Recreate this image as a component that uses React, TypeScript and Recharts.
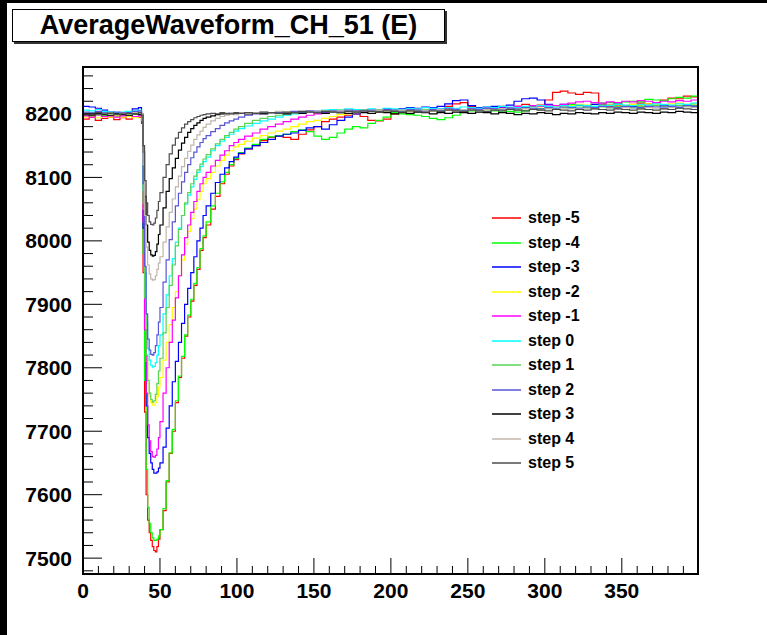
import React from 'react';
import { LineChart, Line, XAxis, YAxis, Legend } from 'recharts';

// bin positions (x axis), denser where the pulse is
const bins = [
  0, 4, 8, 12, 16, 20, 24, 28, 32, 36,
  38, 39, 40, 41, 42, 43, 44, 45, 46, 47, 48, 49, 50,
  52, 54, 56, 58, 60, 62, 64, 66, 68, 70, 72, 74, 76, 78, 80,
  83, 86, 89, 92, 95, 98, 101,
  105, 110, 115, 120, 125, 130, 135, 140, 145, 150,
  155, 160, 165, 170, 175, 180, 185, 190, 195, 200,
  205, 210, 215, 220, 225, 230, 235, 240, 245, 250,
  255, 260, 265, 270, 275, 280, 285, 290, 295, 300,
  305, 310, 315, 320, 325, 330, 335, 340, 345, 350,
  355, 360, 365, 370, 375, 380, 385, 390, 395, 400,
];

const stepM5 = [
  8192, 8195, 8190, 8193, 8195, 8191, 8194, 8192, 8196, 8195,
  8185, 7950, 7730, 7600, 7560, 7540, 7528, 7518, 7512, 7510, 7518, 7530, 7545,
  7575, 7620, 7665, 7700, 7745, 7785, 7815, 7850, 7880, 7905, 7930, 7955, 7985, 8005, 8025,
  8050, 8070, 8090, 8105, 8118, 8128, 8137,
  8145, 8150, 8158, 8163, 8165, 8163, 8160, 8168, 8175, 8180,
  8188, 8192, 8195, 8198, 8200, 8196, 8190, 8189, 8192, 8200,
  8203, 8205, 8204, 8207, 8206, 8208, 8212, 8216, 8218, 8212,
  8210, 8208, 8210, 8212, 8210, 8212, 8215, 8212, 8214, 8222,
  8234, 8236, 8233, 8231, 8234, 8233, 8215, 8212, 8214, 8213,
  8215, 8217, 8216, 8218, 8222, 8225, 8224, 8228, 8227, 8229,
];

const stepM4 = [
  8198, 8196, 8199, 8197, 8198, 8196, 8199, 8198, 8200, 8199,
  8190, 7980, 7780, 7640, 7580, 7555, 7540, 7532, 7528, 7528, 7530, 7535, 7545,
  7578, 7622, 7666, 7703, 7748, 7787, 7818, 7852, 7883, 7908, 7933, 7958, 7988, 8008, 8030,
  8055, 8075, 8093, 8108, 8120, 8130, 8139,
  8146, 8152, 8160, 8164, 8166, 8168, 8172, 8175, 8172, 8165,
  8160, 8163, 8170, 8176, 8180, 8178, 8185, 8190, 8195, 8202,
  8200, 8199, 8198, 8196, 8193, 8191, 8194, 8198, 8203, 8205,
  8206, 8204, 8205, 8203, 8204, 8203, 8205, 8207, 8208, 8210,
  8212, 8213, 8215, 8214, 8213, 8215, 8217, 8218, 8216, 8219,
  8220, 8219, 8223, 8222, 8221, 8224, 8226, 8225, 8228, 8229,
];

const stepM3 = [
  8212, 8211, 8209, 8206, 8203, 8202, 8201, 8203, 8208, 8210,
  8200, 8020, 7860, 7740, 7690, 7665, 7650, 7640, 7634, 7634, 7636, 7642, 7650,
  7675, 7705, 7740, 7778, 7810, 7840, 7870, 7900, 7925, 7950, 7975, 8000, 8020, 8040, 8055,
  8075, 8092, 8105, 8115, 8125, 8132, 8138,
  8145, 8150, 8155, 8160, 8165, 8168, 8170, 8174, 8178, 8180,
  8176, 8183, 8190, 8195, 8200, 8204, 8205, 8207, 8208, 8206,
  8208, 8210, 8209, 8211, 8210, 8212, 8216, 8221, 8222, 8213,
  8210, 8211, 8212, 8210, 8214, 8220, 8224, 8225, 8222, 8215,
  8213, 8215, 8212, 8214, 8213, 8215, 8212, 8214, 8215, 8213,
  8212, 8214, 8212, 8213, 8211, 8212, 8210, 8214, 8213, 8215,
];

const stepM2 = [
  8195, 8197, 8194, 8196, 8195, 8197, 8195, 8196, 8194, 8196,
  8195, 8050, 7900, 7810, 7775, 7755, 7745, 7741, 7741, 7745, 7755, 7770, 7785,
  7812, 7840, 7868, 7895, 7920, 7945, 7970, 7995, 8015, 8035, 8050, 8065, 8078, 8090, 8098,
  8108, 8118, 8127, 8135, 8142, 8148, 8152,
  8157, 8162, 8166, 8170, 8173, 8176, 8180, 8184, 8188, 8190,
  8193, 8196, 8199, 8200, 8202, 8203, 8204, 8203, 8205, 8206,
  8204, 8205, 8207, 8206, 8205, 8207, 8206, 8208, 8207, 8206,
  8208, 8207, 8209, 8208, 8207, 8209, 8210, 8209, 8211, 8210,
  8212, 8211, 8213, 8215, 8214, 8212, 8213, 8214, 8212, 8213,
  8215, 8214, 8216, 8215, 8214, 8216, 8217, 8215, 8216, 8218,
];

const stepM1 = [
  8197, 8195, 8198, 8196, 8197, 8195, 8197, 8198, 8196, 8197,
  8195, 8030, 7860, 7760, 7710, 7685, 7668, 7660, 7659, 7662, 7672, 7690, 7715,
  7760, 7800, 7840, 7875, 7910, 7945, 7978, 8005, 8025, 8045, 8062, 8078, 8090, 8100, 8108,
  8118, 8127, 8135, 8142, 8150, 8155, 8160,
  8165, 8170, 8176, 8180, 8184, 8188, 8192, 8195, 8198, 8200,
  8202, 8203, 8204, 8205, 8204, 8206, 8205, 8207, 8206, 8205,
  8207, 8206, 8208, 8207, 8206, 8208, 8209, 8208, 8207, 8209,
  8208, 8210, 8209, 8211, 8210, 8212, 8211, 8213, 8212, 8214,
  8213, 8215, 8217, 8219, 8220, 8218, 8217, 8219, 8218, 8220,
  8219, 8221, 8220, 8218, 8220, 8219, 8221, 8220, 8222, 8221,
];

const step0 = [
  8206, 8205, 8207, 8204, 8203, 8202, 8203, 8204, 8205, 8206,
  8200, 8080, 7950, 7870, 7830, 7812, 7804, 7801, 7802, 7808, 7820, 7835, 7852,
  7885, 7915, 7945, 7972, 7998, 8020, 8040, 8058, 8072, 8085, 8097, 8108, 8117, 8125, 8132,
  8142, 8150, 8157, 8163, 8168, 8173, 8177,
  8181, 8185, 8189, 8192, 8195, 8198, 8200, 8202, 8203, 8205,
  8206, 8207, 8206, 8208, 8207, 8206, 8208, 8207, 8209, 8208,
  8207, 8209, 8208, 8210, 8209, 8208, 8210, 8209, 8211, 8210,
  8209, 8211, 8210, 8212, 8211, 8210, 8212, 8211, 8213, 8212,
  8211, 8213, 8212, 8214, 8213, 8212, 8214, 8213, 8215, 8214,
  8213, 8215, 8214, 8216, 8215, 8214, 8216, 8215, 8217, 8216,
];

const step1 = [
  8200, 8201, 8199, 8200, 8202, 8200, 8201, 8199, 8202, 8203,
  8198, 8060, 7910, 7820, 7780, 7760, 7750, 7746, 7748, 7758, 7775, 7795, 7815,
  7855, 7895, 7930, 7962, 7992, 8018, 8040, 8060, 8076, 8090, 8102, 8112, 8121, 8129, 8136,
  8145, 8153, 8160, 8166, 8171, 8176, 8180,
  8185, 8190, 8193, 8196, 8198, 8200, 8202, 8203, 8204, 8203,
  8205, 8204, 8206, 8205, 8204, 8206, 8205, 8207, 8206, 8205,
  8204, 8206, 8205, 8207, 8206, 8205, 8207, 8206, 8205, 8207,
  8206, 8208, 8207, 8206, 8208, 8207, 8209, 8208, 8207, 8209,
  8208, 8210, 8209, 8211, 8210, 8209, 8211, 8210, 8212, 8211,
  8210, 8212, 8211, 8213, 8212, 8211, 8213, 8212, 8214, 8213,
];

const step2 = [
  8203, 8202, 8204, 8202, 8201, 8203, 8202, 8201, 8204, 8205,
  8200, 8090, 7960, 7885, 7845, 7828, 7821, 7820, 7824, 7835, 7852, 7872, 7895,
  7935, 7970, 8002, 8030, 8055, 8075, 8093, 8108, 8120, 8131, 8140, 8148, 8155, 8161, 8166,
  8172, 8177, 8182, 8186, 8189, 8192, 8195,
  8198, 8200, 8201, 8202, 8203, 8202, 8204, 8203, 8205, 8204,
  8203, 8205, 8204, 8206, 8205, 8204, 8206, 8205, 8207, 8206,
  8205, 8207, 8206, 8205, 8207, 8206, 8208, 8207, 8206, 8208,
  8207, 8209, 8208, 8207, 8209, 8208, 8210, 8209, 8208, 8210,
  8209, 8211, 8210, 8209, 8211, 8210, 8212, 8211, 8210, 8212,
  8211, 8210, 8212, 8211, 8213, 8212, 8211, 8213, 8212, 8214,
];

const step3 = [
  8199, 8198, 8200, 8199, 8198, 8200, 8199, 8198, 8200, 8199,
  8198, 8140, 8070, 8025, 7998, 7985, 7978, 7976, 7977, 7983, 7995, 8010, 8025,
  8052, 8078, 8098, 8115, 8130, 8143, 8154, 8163, 8171, 8177, 8182, 8186, 8190, 8193, 8195,
  8197, 8199, 8200, 8200, 8201, 8200, 8201,
  8200, 8201, 8200, 8202, 8201, 8200, 8202, 8201, 8203, 8202,
  8201, 8203, 8202, 8201, 8203, 8202, 8201, 8203, 8202, 8200,
  8202, 8201, 8203, 8202, 8200, 8202, 8201, 8203, 8202, 8201,
  8203, 8202, 8200, 8202, 8201, 8199, 8201, 8200, 8202, 8201,
  8199, 8201, 8200, 8202, 8201, 8200, 8202, 8201, 8203, 8202,
  8201, 8203, 8202, 8201, 8203, 8202, 8204, 8203, 8202, 8204,
];

const step4 = [
  8200, 8201, 8199, 8201, 8200, 8199, 8201, 8200, 8202, 8201,
  8200, 8120, 8040, 7990, 7962, 7948, 7940, 7938, 7939, 7945, 7955, 7965, 7975,
  7998, 8022, 8045, 8066, 8085, 8102, 8117, 8130, 8141, 8151, 8160, 8167, 8173, 8179, 8184,
  8189, 8193, 8196, 8198, 8200, 8199, 8201,
  8201, 8202, 8203, 8202, 8204, 8203, 8202, 8204, 8203, 8205,
  8204, 8203, 8205, 8204, 8203, 8205, 8204, 8206, 8205, 8204,
  8206, 8205, 8204, 8206, 8205, 8207, 8206, 8205, 8207, 8206,
  8205, 8207, 8206, 8208, 8207, 8206, 8208, 8207, 8206, 8208,
  8207, 8209, 8208, 8207, 8209, 8208, 8207, 8209, 8208, 8210,
  8209, 8208, 8210, 8209, 8208, 8210, 8209, 8211, 8210, 8209,
];

const step5 = [
  8201, 8200, 8202, 8200, 8201, 8199, 8200, 8201, 8200, 8202,
  8198, 8150, 8095, 8060, 8040, 8030, 8026, 8025, 8028, 8036, 8048, 8062, 8076,
  8100, 8120, 8137, 8151, 8162, 8171, 8178, 8184, 8188, 8191, 8194, 8196, 8198, 8199, 8200,
  8201, 8200, 8202, 8201, 8200, 8202, 8201,
  8202, 8201, 8203, 8202, 8201, 8203, 8202, 8204, 8203, 8202,
  8204, 8203, 8202, 8204, 8203, 8205, 8204, 8203, 8205, 8204,
  8203, 8205, 8204, 8203, 8205, 8204, 8206, 8205, 8204, 8206,
  8205, 8204, 8206, 8205, 8207, 8206, 8205, 8207, 8206, 8205,
  8207, 8206, 8205, 8207, 8206, 8208, 8207, 8206, 8208, 8207,
  8206, 8208, 8207, 8206, 8208, 8207, 8209, 8208, 8207, 8209,
];

const seriesNames = ['step -5', 'step -4', 'step -3', 'step -2', 'step -1', 'step 0', 'step 1', 'step 2', 'step 3', 'step 4', 'step 5'];
const seriesValues = [stepM5, stepM4, stepM3, stepM2, stepM1, step0, step1, step2, step3, step4, step5];
const seriesColors = ['#ff0000', '#00ff00', '#0000ff', '#ffff00', '#ff00ff', '#00ffff', '#59d454', '#5954d8', '#000000', '#c0b6ac', '#4c4c4c'];

const xLabels = [0, 50, 100, 150, 200, 250, 300, 350];
const yLabels = [7500, 7600, 7700, 7800, 7900, 8000, 8100, 8200];
const xTicks = Array.from({ length: 40 }, (_, i) => i * 10);
const yTicks = Array.from({ length: 40 }, (_, i) => 7480 + i * 20);

const data = bins.map((b, i) => {
  const row: Record<string, number> = { bin: b };
  seriesValues.forEach((vals, k) => {
    row['s' + k] = vals[i];
  });
  return row;
});

const FONT = '"Liberation Sans", Arial, Helvetica, sans-serif';
const Y_MARGIN = 11;

const YTick = (props: any) => {
  const { x, y, payload } = props;
  const v = payload.value;
  const major = yLabels.includes(v);
  const ax = x + Y_MARGIN;
  return (
    <g>
      <line x1={ax} x2={ax + (major ? 19 : 10)} y1={y} y2={y} stroke="#000" strokeWidth={1} />
      {major && (
        <text x={x} y={y} dy={7.5} textAnchor="end" fontFamily={FONT} fontWeight="bold" fontSize={21} fill="#000">
          {v}
        </text>
      )}
    </g>
  );
};

const XTick = (props: any) => {
  const { x, y, payload } = props;
  const v = payload.value;
  const major = xLabels.includes(v);
  return (
    <g>
      <line x1={x} x2={x} y1={y} y2={y - (major ? 16 : 8)} stroke="#000" strokeWidth={1} />
      {major && (
        <text x={x} y={y + 24} textAnchor="middle" fontFamily={FONT} fontWeight="bold" fontSize={21} fill="#000">
          {v}
        </text>
      )}
    </g>
  );
};

// legend rows in series order (step -5 first)
const LegendBox = () => (
  <div>
    {seriesNames.map((name, i) => (
      <div key={name} style={{ height: 24.5, display: 'flex', alignItems: 'center' }}>
        <svg width={31} height={4} style={{ display: 'block' }}>
          <line x1={2} x2={31} y1={2} y2={2} stroke={seriesColors[i]} strokeWidth={1.5} />
        </svg>
        <span style={{ marginLeft: 7, fontFamily: FONT, fontWeight: 'bold', fontSize: 16, color: '#000' }}>
          {name}
        </span>
      </div>
    ))}
  </div>
);

export default function App() {
  return (
    <div style={{ position: 'absolute', left: 0, top: 0, width: 767, height: 635, background: '#000' }}>
      <div style={{ position: 'absolute', left: 7, top: 3, width: 760, height: 632, background: '#fff' }} />
      <div
        style={{
          position: 'absolute',
          left: 12,
          top: 9,
          width: 431,
          height: 31,
          border: '1px solid #000',
          boxShadow: '2px 2px 0 #333',
          background: '#fff',
          display: 'flex',
          alignItems: 'center',
          justifyContent: 'center',
          fontFamily: FONT,
          fontWeight: 'bold',
          fontSize: 27,
          color: '#000',
          zIndex: 2,
        }}
      >
        AverageWaveform_CH_51 (E)
      </div>
      <div style={{ position: 'absolute', left: 0, top: 0 }}>
        <LineChart width={767} height={635} data={data} margin={{ top: 67, right: 69, bottom: 0, left: 0 }}>
          <XAxis
            dataKey="bin"
            type="number"
            domain={[0, 399.5]}
            allowDataOverflow
            ticks={xTicks}
            interval={0}
            tickSize={0}
            tickMargin={0}
            tick={XTick}
            axisLine={{ stroke: '#000', strokeWidth: 2 }}
            height={61}
          />
          <YAxis
            type="number"
            domain={[7475, 8274]}
            allowDataOverflow
            ticks={yTicks}
            interval={0}
            tickSize={0}
            tickMargin={Y_MARGIN}
            tick={YTick}
            axisLine={{ stroke: '#000', strokeWidth: 2 }}
            width={83}
          />
          {seriesNames.map((name, k) => (
            <Line
              key={name}
              name={name}
              dataKey={'s' + k}
              type="stepAfter"
              stroke={seriesColors[k]}
              strokeWidth={1.2}
              dot={false}
              activeDot={false}
              isAnimationActive={false}
            />
          ))}
          <Legend
            layout="vertical"
            align="center"
            verticalAlign="middle"
            content={LegendBox}
            wrapperStyle={{ left: 490, top: 206, width: 130, height: 270 }}
          />
        </LineChart>
      </div>
      {/* plot frame */}
      <div
        style={{
          position: 'absolute',
          left: 82,
          top: 66,
          width: 617,
          height: 509,
          boxSizing: 'border-box',
          border: '2px solid #000',
          pointerEvents: 'none',
        }}
      />
    </div>
  );
}
